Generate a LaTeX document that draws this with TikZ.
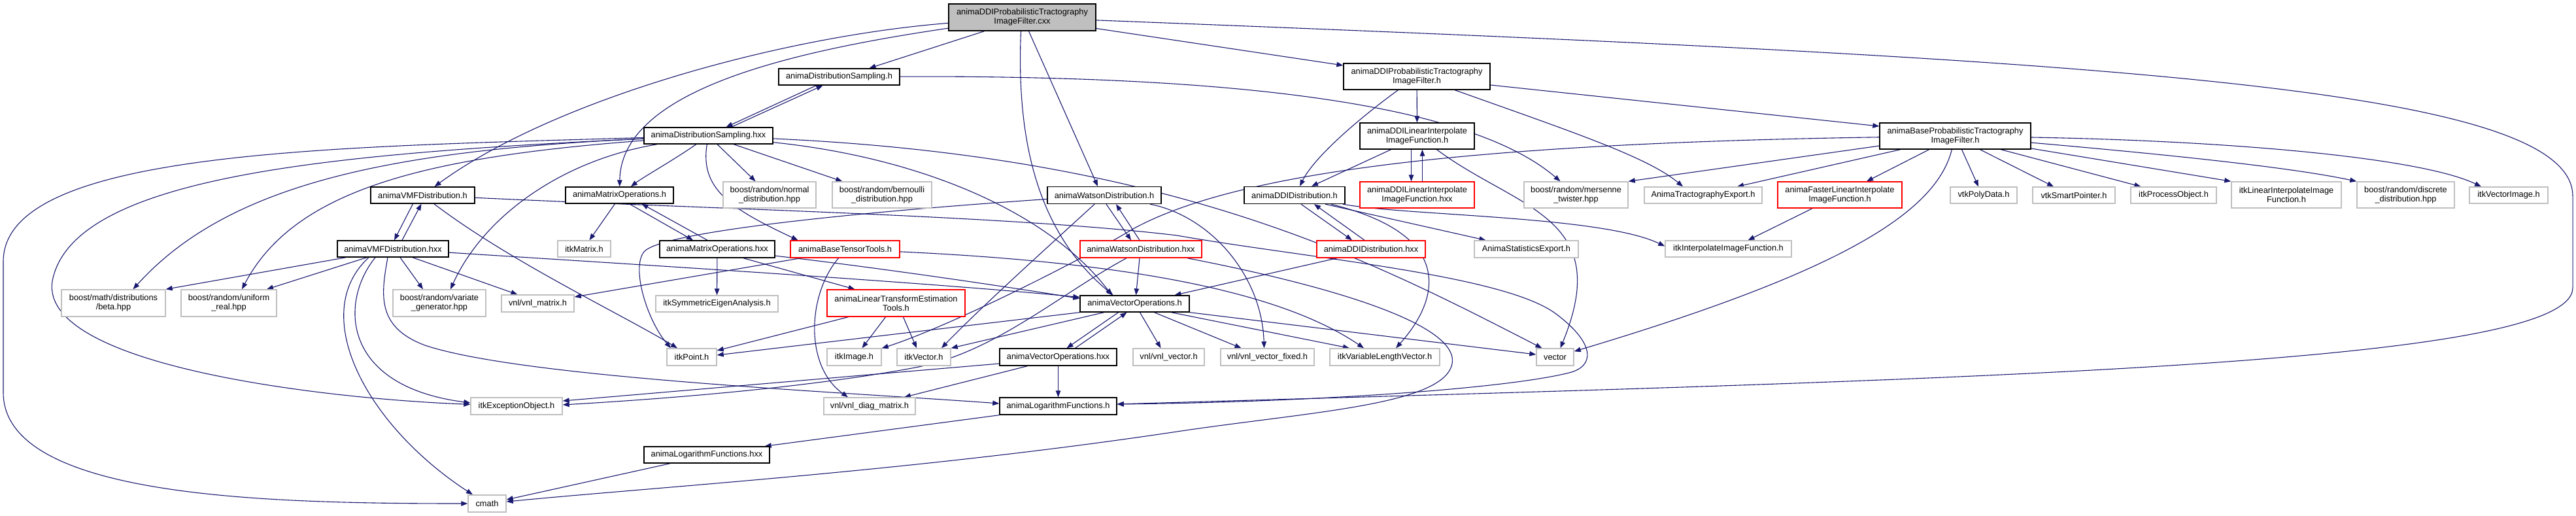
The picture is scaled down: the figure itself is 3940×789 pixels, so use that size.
\documentclass[tikz,border=0pt]{standalone}
\usepackage{fontspec}
\setmainfont{Liberation Sans}
\usetikzlibrary{arrows.meta}
\definecolor{edgec}{HTML}{191970}
\definecolor{grayc}{HTML}{BFBFBF}
\definecolor{redc}{HTML}{FF0000}
\definecolor{rootfill}{HTML}{BFBFBF}
\newcommand{\fs}{\fontsize{12.8}{14}\selectfont}
\pgfdeclarelayer{background}
\pgfsetlayers{background,main}
\begin{document}
\begin{tikzpicture}[x=1pt,y=-1pt,
  box/.style={rectangle, inner sep=0pt, align=center, font=\fs, fill=white, line width=1.4pt},
  bk/.style={box, draw=black},
  gy/.style={box, draw=grayc},
  rd/.style={box, draw=redc},
  e/.style={draw=edgec, line width=1.1pt, -{Triangle[length=10pt,width=7.5pt]}}]
\useasboundingbox (0,0) rectangle (3940,789);
% ---------------- nodes ----------------
\node[bk, fill=rootfill, minimum width=225pt, minimum height=41pt] (root) at (1563.5,26.5) {animaDDIProbabilisticTractography\\ImageFilter.cxx};
\node[bk, minimum width=185pt, minimum height=25pt] (dsh) at (1283.5,117.5) {animaDistributionSampling.h};
\node[bk, minimum width=197pt, minimum height=25pt] (dshxx) at (1083.5,207.5) {animaDistributionSampling.hxx};
\node[bk, minimum width=224pt, minimum height=40pt] (ddiptf) at (2167,117) {animaDDIProbabilisticTractography\\ImageFilter.h};
\node[bk, minimum width=159pt, minimum height=25pt] (vmfh) at (646.5,298.5) {animaVMFDistribution.h};
\node[bk, minimum width=165pt, minimum height=25pt] (matoph) at (947.5,298.5) {animaMatrixOperations.h};
\node[gy, minimum width=142pt, minimum height=40pt] (normal) at (1177,298) {boost/random/normal\\\_distribution.hpp};
\node[gy, minimum width=152pt, minimum height=40pt] (bernoulli) at (1349,298) {boost/random/bernoulli\\\_distribution.hpp};
\node[bk, minimum width=174pt, minimum height=26pt] (watsonh) at (1689,298.5) {animaWatsonDistribution.h};
\node[bk, minimum width=154pt, minimum height=26pt] (ddidisth) at (1980,298.5) {animaDDIDistribution.h};
\node[bk, minimum width=175pt, minimum height=40pt] (ddilinh) at (2167.5,208) {animaDDILinearInterpolate\\ImageFunction.h};
\node[rd, minimum width=175pt, minimum height=40pt] (ddilinhxx) at (2167.5,298) {animaDDILinearInterpolate\\ImageFunction.hxx};
\node[gy, minimum width=159pt, minimum height=40pt] (mersenne) at (2410.5,298) {boost/random/mersenne\\\_twister.hpp};
\node[gy, minimum width=180pt, minimum height=25pt] (tractexport) at (2605,298.5) {AnimaTractographyExport.h};
\node[rd, minimum width=190pt, minimum height=40pt] (fasterlin) at (2814,298) {animaFasterLinearInterpolate\\ImageFunction.h};
\node[bk, minimum width=231pt, minimum height=40pt] (baseprob) at (2990.5,208) {animaBaseProbabilisticTractography\\ImageFilter.h};
\node[gy, minimum width=102pt, minimum height=25pt] (vtkpoly) at (3034,298.5) {vtkPolyData.h};
\node[gy, minimum width=126pt, minimum height=25pt] (vtksmart) at (3172,298.5) {vtkSmartPointer.h};
\node[gy, minimum width=131pt, minimum height=25pt] (itkproc) at (3324.5,298.5) {itkProcessObject.h};
\node[gy, minimum width=168pt, minimum height=40pt] (itklin) at (3497,298) {itkLinearInterpolateImage\\Function.h};
\node[gy, minimum width=149pt, minimum height=40pt] (discrete) at (3679.5,298) {boost/random/discrete\\\_distribution.hpp};
\node[gy, minimum width=120pt, minimum height=25pt] (itkvecimg) at (3837,298.5) {itkVectorImage.h};
\node[bk, minimum width=170pt, minimum height=25pt] (vmfhxx) at (601,380.5) {animaVMFDistribution.hxx};
\node[gy, minimum width=81pt, minimum height=25pt] (itkmatrix) at (893.5,380.5) {itkMatrix.h};
\node[bk, minimum width=176pt, minimum height=26pt] (matophxx) at (1097,381) {animaMatrixOperations.hxx};
\node[rd, minimum width=167pt, minimum height=26pt] (basetensor) at (1292.5,381) {animaBaseTensorTools.h};
\node[rd, minimum width=186pt, minimum height=26pt] (watsonhxx) at (1745,381) {animaWatsonDistribution.hxx};
\node[rd, minimum width=166pt, minimum height=26pt] (ddidisthxx) at (2097,381) {animaDDIDistribution.hxx};
\node[gy, minimum width=159pt, minimum height=26pt] (statexport) at (2334.5,381) {AnimaStatisticsExport.h};
\node[gy, minimum width=193pt, minimum height=25pt] (itkinterp) at (2643.5,380.5) {itkInterpolateImageFunction.h};
\node[gy, minimum width=159pt, minimum height=41pt] (beta) at (173.5,463.5) {boost/math/distributions\\/beta.hpp};
\node[gy, minimum width=146pt, minimum height=41pt] (uniform) at (350,463.5) {boost/random/uniform\\\_real.hpp};
\node[gy, minimum width=142pt, minimum height=41pt] (variate) at (672,463.5) {boost/random/variate\\\_generator.hpp};
\node[gy, minimum width=111pt, minimum height=26pt] (vnlmatrix) at (822.5,464) {vnl/vnl\_matrix.h};
\node[gy, minimum width=187pt, minimum height=25pt] (itksym) at (1096.5,464.5) {itkSymmetricEigenAnalysis.h};
\node[rd, minimum width=211pt, minimum height=41pt] (lintrans) at (1370.5,463.5) {animaLinearTransformEstimation\\Tools.h};
\node[bk, minimum width=167pt, minimum height=25pt] (vecoph) at (1735.5,464.5) {animaVectorOperations.h};
\node[gy, minimum width=76pt, minimum height=26pt] (itkpoint) at (1058,546) {itkPoint.h};
\node[gy, minimum width=83pt, minimum height=26pt] (itkimage) at (1306.5,546) {itkImage.h};
\node[gy, minimum width=82pt, minimum height=26pt] (itkvector) at (1413,546) {itkVector.h};
\node[bk, minimum width=179pt, minimum height=26pt] (vecophxx) at (1618.5,546) {animaVectorOperations.hxx};
\node[gy, minimum width=109pt, minimum height=26pt] (vnlvector) at (1787.5,546) {vnl/vnl\_vector.h};
\node[gy, minimum width=143pt, minimum height=26pt] (vnlvecfixed) at (1938.5,546) {vnl/vnl\_vector\_fixed.h};
\node[gy, minimum width=168pt, minimum height=26pt] (itkvarlen) at (2118,546) {itkVariableLengthVector.h};
\node[gy, minimum width=57pt, minimum height=26pt] (vector) at (2378.5,546) {vector};
\node[gy, minimum width=140pt, minimum height=26pt] (itkexc) at (790,621) {itkExceptionObject.h};
\node[gy, minimum width=140pt, minimum height=26pt] (vnldiag) at (1330,621) {vnl/vnl\_diag\_matrix.h};
\node[bk, minimum width=179pt, minimum height=26pt] (logh) at (1618.5,621) {animaLogarithmFunctions.h};
\node[bk, minimum width=192pt, minimum height=25pt] (loghxx) at (1081,695.5) {animaLogarithmFunctions.hxx};
\node[gy, minimum width=58pt, minimum height=26pt] (cmath) at (745,770) {cmath};
% ---------------- edges ----------------
\begin{pgfonlayer}{background}
\fill[white] (0,0) rectangle (3940,789);
% root
\draw[e] ([xshift=-58pt]root.south) -- ([xshift=46pt]dsh.north);
\draw[e] ([yshift=-17pt]root.east) -- ([yshift=17pt]ddiptf.west);
\draw[e] (root) .. controls (1200,55) and (850,150) .. (vmfh);
\draw[e] (root) .. controls (1200,80) and (950,140) .. (matoph);
\draw[e] ([xshift=10pt]root.south) -- ([xshift=-10pt]watsonh.north);
\draw[e] ([xshift=-2pt]root.south) .. controls (1555,200) and (1580,350) .. ([xshift=-33pt]vecoph.north);
\draw[e] (root) .. controls (3200,90) and (3935,130) .. (3935,300) -- (3935,440) .. controls (3935,560) and (3000,580) .. ([yshift=3pt]logh.east);
% animaDistributionSampling.h
\draw[e] ([xshift=-35pt]dsh.south) -- ([xshift=27pt]dshxx.north);
\draw[e] ([xshift=35pt]dshxx.north) -- ([xshift=-25pt]dsh.south);
\draw[e] (dsh) .. controls (1900,115) and (2250,160) .. (mersenne);
% animaDistributionSampling.hxx
\draw[e] (dshxx) -- (normal);
\draw[e] (dshxx) -- (bernoulli);
\draw[e] (dshxx) .. controls (1030,245) and (985,270) .. (matoph);
\draw[e] (dshxx) .. controls (1070,290) and (1120,320) .. ([xshift=-72pt]basetensor.north);
\draw[e] (dshxx) .. controls (1400,240) and (1600,320) .. ([xshift=-35pt]vecoph.north);
\draw[e] (dshxx) .. controls (1800,240) and (2100,400) .. ([xshift=-20pt]vector.north);
\draw[e] (dshxx) .. controls (600,230) and (350,280) .. ([xshift=30pt]beta.north);
\draw[e] (dshxx) .. controls (650,240) and (450,290) .. ([xshift=20pt]uniform.north);
\draw[e] (dshxx) .. controls (860,245) and (740,330) .. ([xshift=17pt]variate.north);
\draw[e] (dshxx) .. controls (500,235) and (110,270) .. (80,430) .. controls (60,560) and (500,610) .. (itkexc);
\draw[e] (dshxx) .. controls (500,225) and (5,230) .. (5,400) -- (5,600) .. controls (5,760) and (400,770) .. (cmath);
% animaDDIProbabilisticTractographyImageFilter.h
\draw[e] (ddiptf) -- (ddilinh);
\draw[e] (ddiptf) .. controls (2080,180) and (2010,240) .. ([xshift=8pt]ddidisth.north);
\draw[e] (ddiptf) .. controls (2400,200) and (2520,240) .. ([xshift=-31pt]tractexport.north);
\draw[e] ([yshift=-13pt]ddiptf.east) -- ([yshift=15pt]baseprob.west);
% animaDDILinearInterpolateImageFunction.h
\draw[e] ([xshift=-40pt]ddilinh.south) -- ([xshift=26pt]ddidisth.north);
\draw[e] ([xshift=-9pt]ddilinh.south) -- ([xshift=-9pt]ddilinhxx.north);
\draw[e] ([xshift=8pt]ddilinhxx.north) -- ([xshift=8pt]ddilinh.south);
\draw[e] ([xshift=30pt]ddilinh.south) .. controls (2320,320) and (2470,330) .. ([xshift=8pt]vector.north);
% animaBaseProbabilisticTractographyImageFilter.h
\draw[e] ([yshift=-15pt]baseprob.west) -- (mersenne.north east);
\draw[e] ([xshift=-84pt]baseprob.south) -- ([xshift=52pt]tractexport.north);
\draw[e] ([xshift=-40pt]baseprob.south) -- ([xshift=41pt]fasterlin.north);
\draw[e] (baseprob) .. controls (2960,330) and (2800,420) .. (vector);
\draw[e] ([xshift=10pt]baseprob.south) -- ([xshift=-8pt]vtkpoly.north);
\draw[e] ([xshift=38pt]baseprob.south) -- ([xshift=-31pt]vtksmart.north);
\draw[e] ([xshift=70pt]baseprob.south) -- ([xshift=-50pt]itkproc.north);
\draw[e] ([yshift=-19pt]baseprob.east) -- (itklin.north west);
\draw[e] (baseprob) .. controls (3300,235) and (3500,255) .. (discrete.north west);
\draw[e] (baseprob) .. controls (3400,215) and (3700,240) .. ([xshift=-42pt]itkvecimg.north);
\draw[e] (baseprob) .. controls (2200,220) and (1880,270) .. (1733,350) .. controls (1650,400) and (1450,500) .. (itkimage);
% animaFasterLinearInterpolateImageFunction.h
\draw[e] (fasterlin) -- ([xshift=30pt]itkinterp.north);
% animaDDIDistribution.h
\draw[e] ([xshift=10pt]ddidisth.south) -- ([xshift=-29pt]ddidisthxx.north);
\draw[e] ([xshift=-10pt]ddidisthxx.north) -- ([xshift=30pt]ddidisth.south);
\draw[e] ([xshift=47pt]ddidisth.south) -- ([xshift=-62pt]statexport.north);
\draw[e] (ddidisth) .. controls (2230,360) and (2200,460) .. ([xshift=17pt]itkvarlen.north);
\draw[e] (ddidisth) .. controls (2150,330) and (2450,330) .. ([yshift=4pt]itkinterp.west);
\draw[e] ([xshift=-52pt]ddidisthxx.south) -- ([xshift=61pt]vecoph.north);
% animaWatsonDistribution.h
\draw[e] ([xshift=3pt]watsonh.south) -- ([xshift=-15pt]watsonhxx.north);
\draw[e] ([xshift=-2pt]watsonhxx.north) -- ([xshift=18pt]watsonh.south);
\draw[e] (watsonh) .. controls (1300,325) and (1010,355) .. (985,385) .. controls (965,410) and (990,490) .. ([xshift=-32pt]itkpoint.north);
\draw[e] (watsonh) .. controls (1600,380) and (1500,470) .. ([xshift=27pt]itkvector.north);
\draw[e] (watsonh) .. controls (1850,330) and (1930,420) .. ([xshift=-5pt]vnlvecfixed.north);
% animaWatsonDistribution.hxx
\draw[e] ([xshift=-2pt]watsonhxx.south) -- ([xshift=2pt]vecoph.north);
\draw[e] ([xshift=-22pt]watsonhxx.south) .. controls (1620,450) and (1520,540) .. (1400,562) .. controls (1250,590) and (1050,608) .. ([yshift=2pt]itkexc.east);
\draw[e] (watsonhxx) .. controls (2050,440) and (2240,500) .. (2220,560) .. controls (2200,620) and (2000,630) .. (1800,660) .. controls (1400,720) and (1000,745) .. (cmath);
% animaVMFDistribution.h
\draw[e] ([xshift=-15pt]vmfh.south) -- ([xshift=2pt]vmfhxx.north);
\draw[e] ([xshift=14pt]vmfhxx.north) -- ([xshift=-2pt]vmfh.south);
\draw[e] (vmfh) .. controls (780,400) and (950,480) .. ([xshift=-22pt]itkpoint.north);
\draw[e] (vmfh) .. controls (1100,320) and (1550,330) .. (1800,360) .. controls (2000,395) and (2300,420) .. (2380,480) .. controls (2440,525) and (2440,560) .. (2400,570) .. controls (2300,595) and (2000,615) .. ([yshift=3pt]logh.east);
% animaVMFDistribution.hxx
\draw[e] ([xshift=-72pt]vmfhxx.south) -- (beta.north east);
\draw[e] ([xshift=-40pt]vmfhxx.south) -- ([xshift=58pt]uniform.north);
\draw[e] ([xshift=11pt]vmfhxx.south) -- ([xshift=-25pt]variate.north);
\draw[e] ([xshift=30pt]vmfhxx.south) -- ([xshift=-31pt]vnlmatrix.north);
\draw[e] ([xshift=-27pt]vmfhxx.south) .. controls (520,460) and (520,590) .. ([yshift=5pt]itkexc.west);
\draw[e] ([xshift=-37pt]vmfhxx.south) .. controls (470,480) and (560,650) .. ([xshift=-22pt]cmath.north);
\draw[e] (vmfhxx) .. controls (900,400) and (1400,430) .. ([yshift=10pt]vecoph.west);
\draw[e] ([xshift=-8pt]vmfhxx.south) .. controls (583,450) and (575,500) .. (650,528) .. controls (800,578) and (1300,600) .. ([yshift=4pt]logh.west);
% animaMatrixOperations.h
\draw[e] ([xshift=15pt]matoph.south) -- ([xshift=-37pt]matophxx.north);
\draw[e] ([xshift=-15pt]matophxx.north) -- ([xshift=34pt]matoph.south);
\draw[e] ([xshift=-7pt]matoph.south) -- ([xshift=8pt]itkmatrix.north);
% animaMatrixOperations.hxx
\draw[e] (matophxx) -- (itksym);
\draw[e] ([xshift=40pt]matophxx.south) -- ([xshift=-63pt]lintrans.north);
\draw[e] (matophxx) .. controls (1350,410) and (1550,440) .. ([yshift=8pt]vecoph.west);
% animaBaseTensorTools.h
\draw[e] ([xshift=-68pt]basetensor.south) -- ([yshift=10pt]vnlmatrix.east);
\draw[e] ([xshift=-10pt]basetensor.south) .. controls (1235,450) and (1230,560) .. ([xshift=-33pt]vnldiag.north);
\draw[e] (basetensor) .. controls (1700,400) and (1950,440) .. ([xshift=-32pt]itkvarlen.north);
% animaLinearTransformEstimationTools.h
\draw[e] ([xshift=-73pt]lintrans.south) -- ([yshift=10pt]itkpoint.east);
\draw[e] ([xshift=-16pt]lintrans.south) -- ([xshift=12pt]itkimage.north);
\draw[e] ([xshift=11pt]lintrans.south) -- ([xshift=-11pt]itkvector.north);
% animaVectorOperations.h
\draw[e] ([xshift=-25pt]vecoph.south) -- ([xshift=13pt]vecophxx.north);
\draw[e] ([xshift=26pt]vecophxx.north) -- ([xshift=-12pt]vecoph.south);
\draw[e] (vecoph.south west) -- ([yshift=3pt]itkpoint.east);
\draw[e] ([xshift=-47pt]vecoph.south) -- (itkvector.north east);
\draw[e] ([xshift=8pt]vecoph.south) -- ([xshift=-12pt]vnlvector.north);
\draw[e] ([xshift=30pt]vecoph.south) -- ([xshift=-40pt]vnlvecfixed.north);
\draw[e] ([xshift=56pt]vecoph.south) -- ([xshift=-54pt]itkvarlen.north);
\draw[e] (vecoph.south east) -- ([yshift=4pt]vector.west);
% animaVectorOperations.hxx
\draw[e] ([xshift=-47pt]vecophxx.south) -- ([xshift=53pt]vnldiag.north);
\draw[e] (vecophxx) -- (logh);
\draw[e] ([yshift=-10pt]vecophxx.west) -- ([yshift=8pt]itkexc.east);
% animaLogarithmFunctions
\draw[e] (logh.south west) -- ([xshift=-8pt]loghxx.north east);
\draw[e] ([xshift=-56pt]loghxx.south) -- ([yshift=6pt]cmath.east);
\end{pgfonlayer}
\end{tikzpicture}
\end{document}
